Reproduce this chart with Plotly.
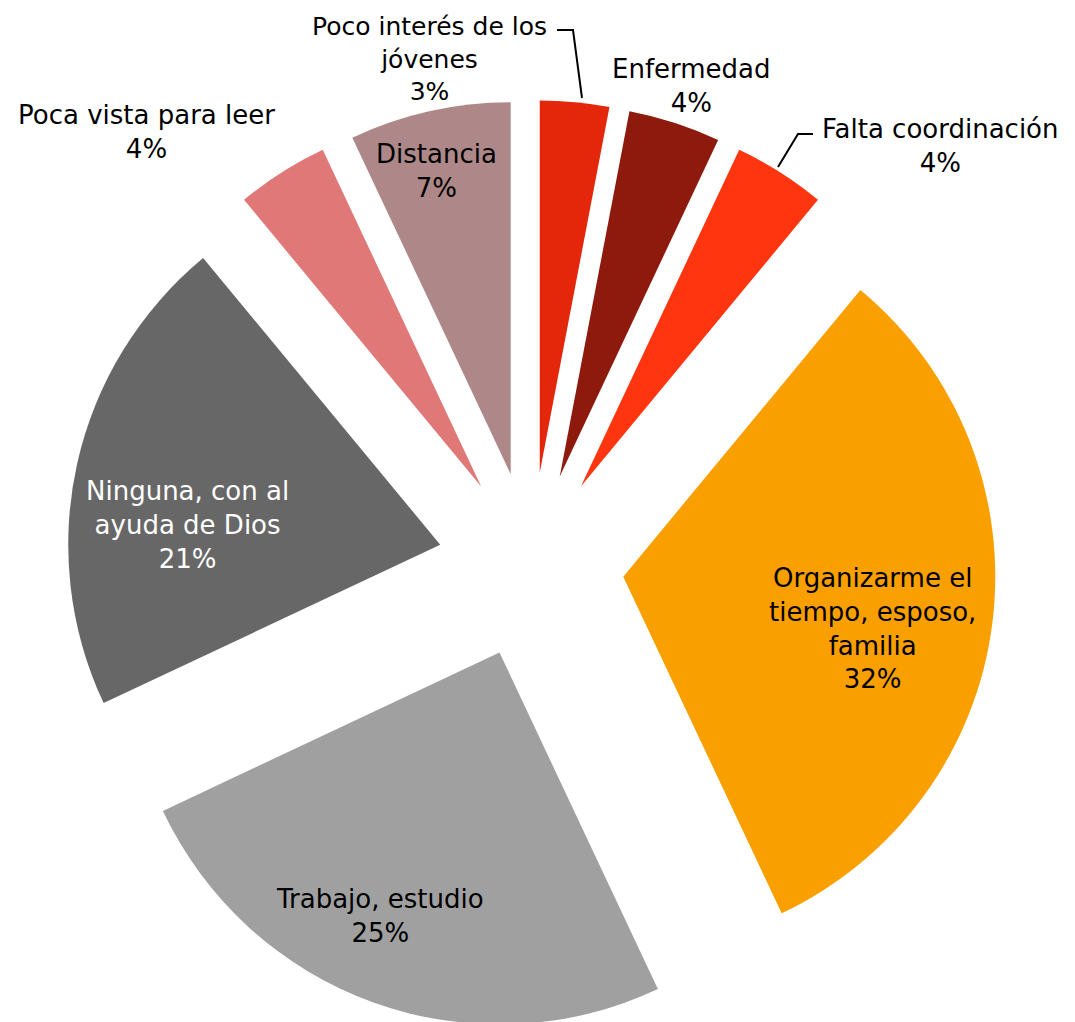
import plotly.graph_objects as go

labels = ["Poco interés de los jóvenes", "Enfermedad", "Falta coordinación",
          "Organizarme el tiempo, esposo, familia", "Trabajo, estudio",
          "Ninguna, con al ayuda de Dios", "Poca vista para leer", "Distancia"]
values = [3, 4, 4, 32, 25, 21, 4, 7]
label_lines = ["Poco interés de los<br>jóvenes", "Enfermedad", "Falta coordinación",
               "Organizarme el<br>tiempo, esposo,<br>familia", "Trabajo, estudio",
               "Ninguna, con al<br>ayuda de Dios", "Poca vista para leer", "Distancia"]
colors = ["#E4260A", "#8E1A0E", "#FF3510", "#F9A000", "#A0A0A0",
          "#676767", "#E07878", "#AE8888"]
label_colors = ["black", "black", "black", "black", "black", "white", "black", "black"]

W, H = 1075, 1022
FONT = "DejaVu Sans"
OFF = 8  # page offset of the plot in the browser window

fig = go.Figure(go.Pie(
    labels=labels, values=values, sort=False, direction="clockwise", rotation=0,
    marker=dict(colors=colors, line=dict(width=0)),
    pull=[0.25] * len(values), textinfo="none", hoverinfo="label+percent",
    domain=dict(x=[0.05395, 0.91907], y=[0.0, 0.91]), showlegend=False,
))

# label positions in window pixels (center of text block) and font sizes
label_pos = [(429, 59), (691, 86), (940, 146), (872, 628), (380, 916),
             (187, 525), (146, 132), (436, 171)]
label_sizes = [25, 26, 26, 26, 26, 26, 26, 26]


def px(x):
    return (x - OFF) / W


def py(y):
    return 1 - (y - OFF) / H


total = sum(values)
annotations = []
for txt, v, (lx, ly), c, s in zip(label_lines, values, label_pos, label_colors, label_sizes):
    pct = round(100 * v / total)
    annotations.append(dict(
        x=px(lx), y=py(ly), xref="paper", yref="paper", showarrow=False,
        text=f"{txt}<br>{pct}%", align="center", xanchor="center", yanchor="middle",
        font=dict(family=FONT, size=s, color=c)))

shapes = [
    dict(type="path", xref="paper", yref="paper",
         path=f"M {px(557)} {py(30)} L {px(573)} {py(30)} L {px(582)} {py(98)}",
         line=dict(color="black", width=2)),
    dict(type="path", xref="paper", yref="paper",
         path=f"M {px(813)} {py(134)} L {px(798)} {py(134)} L {px(778)} {py(167)}",
         line=dict(color="black", width=2)),
]

fig.update_layout(width=W, height=H, margin=dict(l=0, r=0, t=0, b=0),
                  paper_bgcolor="white", plot_bgcolor="white",
                  annotations=annotations, shapes=shapes)
fig.write_html("out.html")
